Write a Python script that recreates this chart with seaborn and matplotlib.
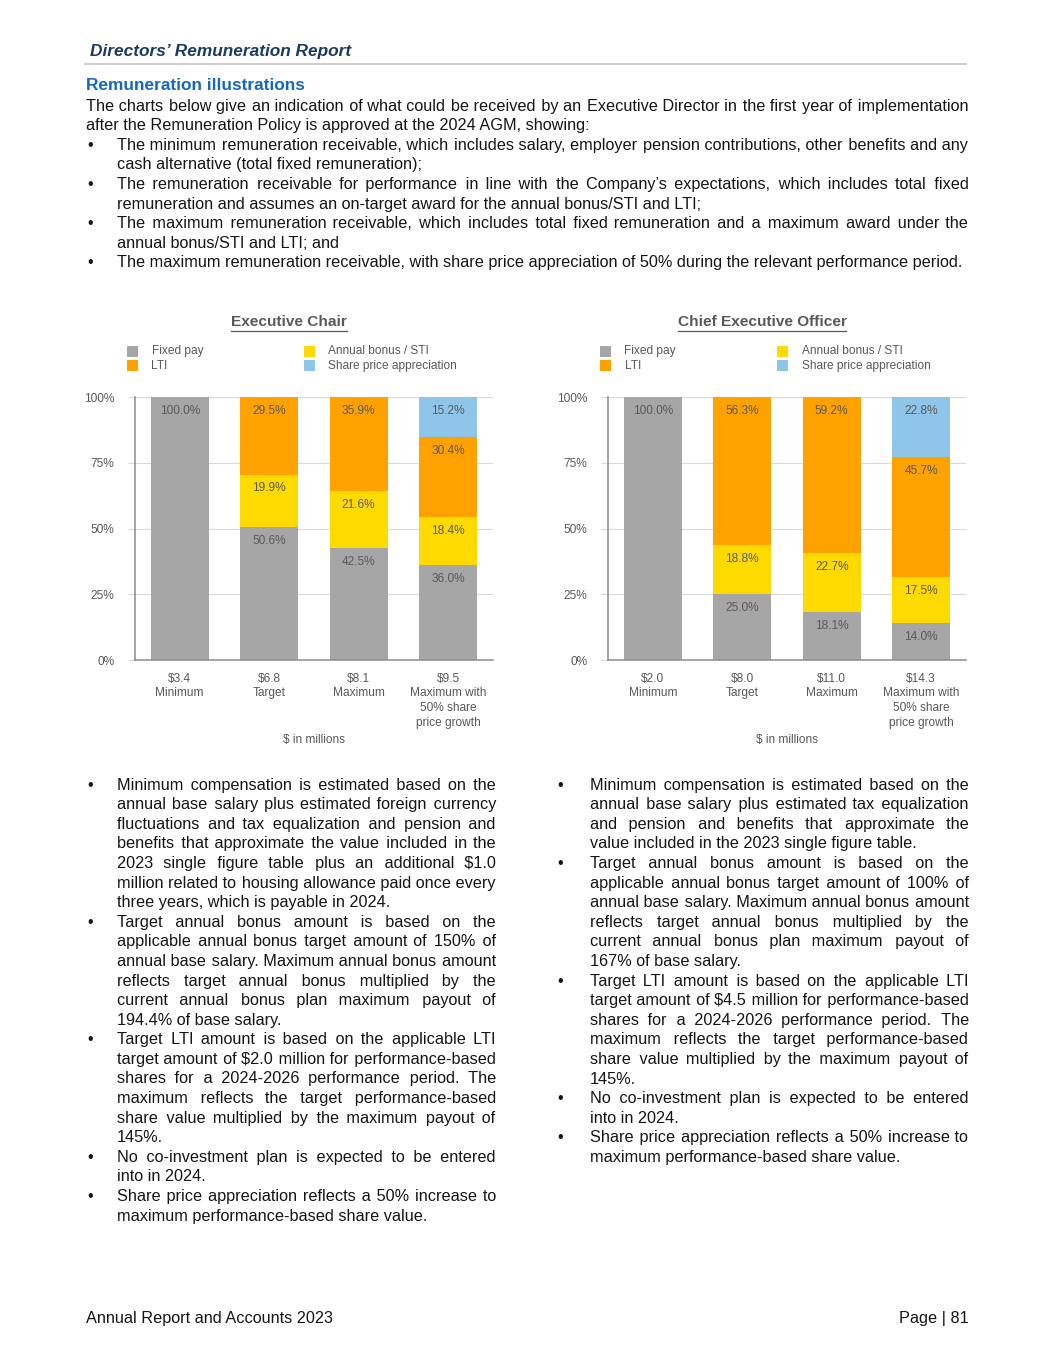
import matplotlib
matplotlib.use("Agg")
import matplotlib.pyplot as plt
import seaborn as sns
from matplotlib.patches import Rectangle
from matplotlib.lines import Line2D

# ------------------------------------------------------------------
# Chart data
# ------------------------------------------------------------------
scenarios = ["Minimum", "Target", "Maximum", "Maximum with\n50% share\nprice growth"]
components = ["Fixed pay", "Annual bonus / STI", "LTI", "Share price appreciation"]
colours = ["#A6A6A6", "#FFDA00", "#FFA200", "#8EC5E9"]

chair_totals = ["$3.4", "$6.8", "$8.1", "$9.5"]
chair_fixed = [100.0, 50.6, 42.5, 36.0]
chair_bonus = [0.0, 19.9, 21.6, 18.4]
chair_lti = [0.0, 29.5, 35.9, 30.4]
chair_share = [0.0, 0.0, 0.0, 15.2]

ceo_totals = ["$2.0", "$8.0", "$11.0", "$14.3"]
ceo_fixed = [100.0, 25.0, 18.1, 14.0]
ceo_bonus = [0.0, 18.8, 22.7, 17.5]
ceo_lti = [0.0, 56.3, 59.2, 45.7]
ceo_share = [0.0, 0.0, 0.0, 22.8]

y_ticks = [0, 25, 50, 75, 100]

# ------------------------------------------------------------------
# Page text
# ------------------------------------------------------------------
intro_lines = [
    "The charts below give an indication of what could be received by an Executive Director in the first year of implementation",
    "after the Remuneration Policy is approved at the 2024 AGM, showing:",
]
intro_bullets = [
    ["The minimum remuneration receivable, which includes salary, employer pension contributions, other benefits and any",
     "cash alternative (total fixed remuneration);"],
    ["The remuneration receivable for performance in line with the Company\u2019s expectations, which includes total fixed",
     "remuneration and assumes an on-target award for the annual bonus/STI and LTI;"],
    ["The maximum remuneration receivable, which includes total fixed remuneration and a maximum award under the",
     "annual bonus/STI and LTI; and"],
    ["The maximum remuneration receivable, with share price appreciation of 50% during the relevant performance period."],
]
chair_notes = [
    ["Minimum compensation is estimated based on the",
     "annual base salary plus estimated foreign currency",
     "fluctuations and tax equalization and pension and",
     "benefits that approximate the value included in the",
     "2023 single figure table plus an additional $1.0",
     "million related to housing allowance paid once every",
     "three years, which is payable in 2024."],
    ["Target annual bonus amount is based on the",
     "applicable annual bonus target amount of 150% of",
     "annual base salary. Maximum annual bonus amount",
     "reflects target annual bonus multiplied by the",
     "current annual bonus plan maximum payout of",
     "194.4% of base salary."],
    ["Target LTI amount is based on the applicable LTI",
     "target amount of $2.0 million for performance-based",
     "shares for a 2024-2026 performance period. The",
     "maximum reflects the target performance-based",
     "share value multiplied by the maximum payout of",
     "145%."],
    ["No co-investment plan is expected to be entered",
     "into in 2024."],
    ["Share price appreciation reflects a 50% increase to",
     "maximum performance-based share value."],
]
ceo_notes = [
    ["Minimum compensation is estimated based on the",
     "annual base salary plus estimated tax equalization",
     "and pension and benefits that approximate the",
     "value included in the 2023 single figure table."],
    ["Target annual bonus amount is based on the",
     "applicable annual bonus target amount of 100% of",
     "annual base salary. Maximum annual bonus amount",
     "reflects target annual bonus multiplied by the",
     "current annual bonus plan maximum payout of",
     "167% of base salary."],
    ["Target LTI amount is based on the applicable LTI",
     "target amount of $4.5 million for performance-based",
     "shares for a 2024-2026 performance period. The",
     "maximum reflects the target performance-based",
     "share value multiplied by the maximum payout of",
     "145%."],
    ["No co-investment plan is expected to be entered",
     "into in 2024."],
    ["Share price appreciation reflects a 50% increase to",
     "maximum performance-based share value."],
]

# ------------------------------------------------------------------
# Figure setup (positions are in page pixels, measured from the top)
# ------------------------------------------------------------------
W, H = 1055, 1365
BODY = 11.7
SMALL = 8.6
INK = "#151515"
GREY_TXT = "#595959"
LINE_H = 19.6
BASE = 5.5   # baseline sits this far below the visual middle of a line
HAIR = "\u200a"

plt.rcParams["font.family"] = ["Liberation Sans", "DejaVu Sans"]

fig = plt.figure(figsize=(W / 100, H / 100), dpi=100)
fig.patch.set_facecolor("white")
renderer = fig.canvas.get_renderer()


def fx(x):
    return x / W


def fy(y):
    return 1 - y / H


def text_width(s):
    t = fig.text(0, 0, s, fontsize=BODY, parse_math=False)
    w = t.get_window_extent(renderer).width
    t.remove()
    return w


hair_w = (text_width("x" + HAIR * 40 + "x") - text_width("xx")) / 40


def put_line(text, x0, x1, y, justify):
    # justified lines are padded with hair spaces so each line stays one text
    if justify:
        words = text.split(" ")
        extra = (x1 - x0 - text_width(text)) / (len(words) - 1)
        out, used, acc = words[0], 0, 0.0
        for w in words[1:]:
            acc += extra / hair_w
            k = max(int(round(acc)) - used, 0)
            used += k
            out += " " + HAIR * k + w
        text = out
    fig.text(fx(x0), fy(y + BASE), text, fontsize=BODY, color=INK,
             ha="left", va="baseline", parse_math=False)


def put_bullets(paragraphs, bullet_x, x0, x1, y):
    for lines in paragraphs:
        fig.text(fx(bullet_x), fy(y + BASE), "\u2022", fontsize=BODY, color=INK,
                 ha="center", va="baseline")
        for k, line in enumerate(lines):
            put_line(line, x0, x1, y, justify=k < len(lines) - 1)
            y += LINE_H
    return y


# ================================================================
# Header
# ================================================================
fig.text(fx(90.5), fy(50 + 5.8), "Directors\u2019 Remuneration Report", fontsize=12.4,
         fontweight="bold", fontstyle="italic", color="#1B3A63", ha="left", va="baseline")
fig.add_artist(Line2D([fx(85), fx(966)], [fy(63.5), fy(63.5)],
                      color="#C8C8C8", lw=1.3, transform=fig.transFigure))
fig.text(fx(86), fy(84 + 5.8), "Remuneration illustrations", fontsize=12.4,
         fontweight="bold", color="#1668BD", ha="left", va="baseline")

y = 105
for k, line in enumerate(intro_lines):
    put_line(line, 86, 968, y, justify=k == 0)
    y += LINE_H
put_bullets(intro_bullets, 90, 116.7, 968, y)


# ================================================================
# Charts
# ================================================================
def draw_chart(left, title, totals, layers):
    ax = fig.add_axes([fx(left), fy(660), 358 / W, 263 / H])
    labels = [f"{t}\n{s}" for t, s in zip(totals, scenarios)]

    # cumulative heights, drawn top layer first so lower layers cover them
    stacks = []
    running = [0.0] * len(labels)
    for vals in layers:
        running = [r + v for r, v in zip(running, vals)]
        stacks.append(list(running))
    for k in reversed(range(len(layers))):
        sns.barplot(x=labels, y=stacks[k], color=colours[k], saturation=1,
                    width=0.65, linewidth=0, errorbar=None, ax=ax, zorder=2)

    for k, vals in enumerate(layers):
        for i, v in enumerate(vals):
            if v > 0:
                ax.annotate(f"{v:.1f}%", xy=(i, stacks[k][i]), xytext=(0, -10),
                            textcoords="offset points", ha="center", va="center",
                            fontsize=SMALL, color=GREY_TXT, zorder=3)

    ax.set_xlim(-0.5, len(labels) - 0.5)
    ax.set_ylim(0, 100)
    ax.set_yticks(y_ticks)
    ax.set_yticklabels([f"{t}%" for t in y_ticks])
    ax.set_xlabel("")
    ax.set_ylabel("")
    ax.grid(axis="y", color="#D9D9D9", lw=0.8, zorder=0)
    ax.set_axisbelow(True)
    for side in ["top", "right"]:
        ax.spines[side].set_visible(False)
    for side in ["left", "bottom"]:
        ax.spines[side].set_color("#8C8C8C")
        ax.spines[side].set_linewidth(1.1)
    ax.tick_params(axis="y", length=5, width=0.8, color="#D9D9D9",
                   pad=10, labelsize=SMALL, labelcolor=GREY_TXT)
    ax.tick_params(axis="x", length=0, pad=9, labelsize=SMALL, labelcolor=GREY_TXT)
    for lab in ax.get_xticklabels():
        lab.set_linespacing(1.3)

    # title with underline
    t = fig.text(fx(left + 154), fy(321.5), title, fontsize=11.1, fontweight="bold",
                 color=GREY_TXT, ha="center", va="center")
    bb = t.get_window_extent(renderer)
    fig.add_artist(Line2D([bb.x0 / W, bb.x1 / W], [fy(330.5), fy(330.5)],
                          color=GREY_TXT, lw=0.9, transform=fig.transFigure))

    # legend: two columns of square swatches
    legend_pos = [(127, 351), (304, 351), (127, 366), (304, 366)]
    for (lx, ly), name in zip(legend_pos, ["Fixed pay", "Annual bonus / STI",
                                           "LTI", "Share price appreciation"]):
        col = colours[components.index(name)]
        x = left - 135 + lx
        fig.add_artist(Rectangle((fx(x), fy(ly + 5.5)), 11 / W, 11 / H,
                                 facecolor=col, edgecolor="none",
                                 transform=fig.transFigure))
        fig.text(fx(x + 24.5), fy(ly), name, fontsize=SMALL, color=GREY_TXT,
                 ha="left", va="center")

    fig.text(fx(left + 179), fy(740), "$ in millions", fontsize=SMALL,
             color=GREY_TXT, ha="center", va="center")
    return ax


draw_chart(135, "Executive Chair", chair_totals,
           [chair_fixed, chair_bonus, chair_lti, chair_share])
draw_chart(608, "Chief Executive Officer", ceo_totals,
           [ceo_fixed, ceo_bonus, ceo_lti, ceo_share])

# ================================================================
# Notes under the charts
# ================================================================
put_bullets(chair_notes, 90, 116.7, 495.5, 784)
put_bullets(ceo_notes, 560, 590, 968.5, 784)

# ================================================================
# Footer
# ================================================================
fig.text(fx(86), fy(1317 + BASE), "Annual Report and Accounts 2023", fontsize=BODY,
         color=INK, ha="left", va="baseline")
fig.text(fx(969), fy(1317 + BASE), "Page | 81", fontsize=BODY, color=INK,
         ha="right", va="baseline")

fig.savefig("out.png", dpi=100, facecolor="white")
plt.close(fig)
